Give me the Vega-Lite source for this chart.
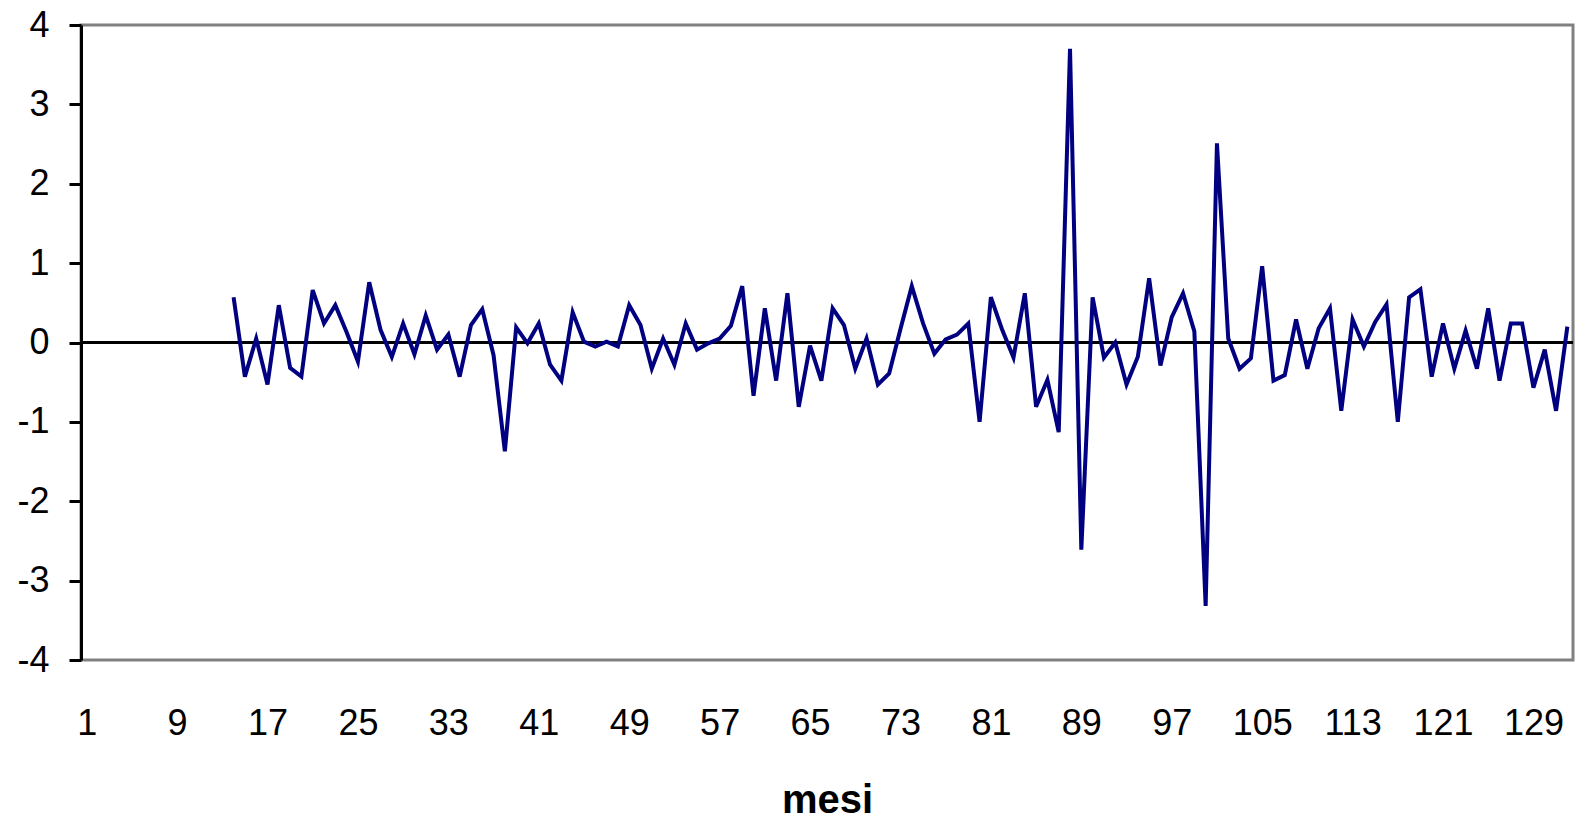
{
  "$schema": "https://vega.github.io/schema/vega-lite/v6.json",
  "autosize": {"type": "none"},
  "width": 1492,
  "height": 635,
  "padding": {"left": 81, "top": 25, "right": 8, "bottom": 161},
  "background": "white",
  "config": {
    "font": "Liberation Sans",
    "view": {"stroke": "#808080", "strokeWidth": 3}
  },
  "data": {
    "values": [
      {"mese": 14, "valore": 0.57}, {"mese": 15, "valore": -0.43}, {"mese": 16, "valore": 0.05}, {"mese": 17, "valore": -0.53},
      {"mese": 18, "valore": 0.47}, {"mese": 19, "valore": -0.32}, {"mese": 20, "valore": -0.43}, {"mese": 21, "valore": 0.66},
      {"mese": 22, "valore": 0.24}, {"mese": 23, "valore": 0.47}, {"mese": 24, "valore": 0.13}, {"mese": 25, "valore": -0.24},
      {"mese": 26, "valore": 0.76}, {"mese": 27, "valore": 0.16}, {"mese": 28, "valore": -0.18}, {"mese": 29, "valore": 0.24},
      {"mese": 30, "valore": -0.15}, {"mese": 31, "valore": 0.34}, {"mese": 32, "valore": -0.09}, {"mese": 33, "valore": 0.10},
      {"mese": 34, "valore": -0.43}, {"mese": 35, "valore": 0.22}, {"mese": 36, "valore": 0.42}, {"mese": 37, "valore": -0.16},
      {"mese": 38, "valore": -1.37}, {"mese": 39, "valore": 0.19}, {"mese": 40, "valore": -0.01}, {"mese": 41, "valore": 0.24},
      {"mese": 42, "valore": -0.28}, {"mese": 43, "valore": -0.48}, {"mese": 44, "valore": 0.38}, {"mese": 45, "valore": 0.01},
      {"mese": 46, "valore": -0.05}, {"mese": 47, "valore": 0.01}, {"mese": 48, "valore": -0.05}, {"mese": 49, "valore": 0.47},
      {"mese": 50, "valore": 0.22}, {"mese": 51, "valore": -0.33}, {"mese": 52, "valore": 0.05}, {"mese": 53, "valore": -0.28},
      {"mese": 54, "valore": 0.24}, {"mese": 55, "valore": -0.09}, {"mese": 56, "valore": -0.01}, {"mese": 57, "valore": 0.05},
      {"mese": 58, "valore": 0.21}, {"mese": 59, "valore": 0.71}, {"mese": 60, "valore": -0.67}, {"mese": 61, "valore": 0.43},
      {"mese": 62, "valore": -0.48}, {"mese": 63, "valore": 0.62}, {"mese": 64, "valore": -0.81}, {"mese": 65, "valore": -0.04},
      {"mese": 66, "valore": -0.48}, {"mese": 67, "valore": 0.43}, {"mese": 68, "valore": 0.22}, {"mese": 69, "valore": -0.33},
      {"mese": 70, "valore": 0.05}, {"mese": 71, "valore": -0.53}, {"mese": 72, "valore": -0.39}, {"mese": 73, "valore": 0.17},
      {"mese": 74, "valore": 0.71}, {"mese": 75, "valore": 0.24}, {"mese": 76, "valore": -0.14}, {"mese": 77, "valore": 0.04},
      {"mese": 78, "valore": 0.10}, {"mese": 79, "valore": 0.24}, {"mese": 80, "valore": -1.00}, {"mese": 81, "valore": 0.57},
      {"mese": 82, "valore": 0.16}, {"mese": 83, "valore": -0.19}, {"mese": 84, "valore": 0.62}, {"mese": 85, "valore": -0.81},
      {"mese": 86, "valore": -0.47}, {"mese": 87, "valore": -1.13}, {"mese": 88, "valore": 3.70}, {"mese": 89, "valore": -2.61},
      {"mese": 90, "valore": 0.57}, {"mese": 91, "valore": -0.19}, {"mese": 92, "valore": 0.00}, {"mese": 93, "valore": -0.53},
      {"mese": 94, "valore": -0.18}, {"mese": 95, "valore": 0.81}, {"mese": 96, "valore": -0.29}, {"mese": 97, "valore": 0.32},
      {"mese": 98, "valore": 0.62}, {"mese": 99, "valore": 0.14}, {"mese": 100, "valore": -3.32}, {"mese": 101, "valore": 2.51},
      {"mese": 102, "valore": 0.05}, {"mese": 103, "valore": -0.33}, {"mese": 104, "valore": -0.20}, {"mese": 105, "valore": 0.96},
      {"mese": 106, "valore": -0.48}, {"mese": 107, "valore": -0.41}, {"mese": 108, "valore": 0.29}, {"mese": 109, "valore": -0.33},
      {"mese": 110, "valore": 0.18}, {"mese": 111, "valore": 0.43}, {"mese": 112, "valore": -0.86}, {"mese": 113, "valore": 0.29},
      {"mese": 114, "valore": -0.05}, {"mese": 115, "valore": 0.26}, {"mese": 116, "valore": 0.48}, {"mese": 117, "valore": -1.00},
      {"mese": 118, "valore": 0.57}, {"mese": 119, "valore": 0.67}, {"mese": 120, "valore": -0.43}, {"mese": 121, "valore": 0.24},
      {"mese": 122, "valore": -0.33}, {"mese": 123, "valore": 0.15}, {"mese": 124, "valore": -0.33}, {"mese": 125, "valore": 0.43},
      {"mese": 126, "valore": -0.48}, {"mese": 127, "valore": 0.24}, {"mese": 128, "valore": 0.24}, {"mese": 129, "valore": -0.57},
      {"mese": 130, "valore": -0.09}, {"mese": 131, "valore": -0.86}, {"mese": 132, "valore": 0.20}
    ]
  },
  "layer": [
    {
      "mark": {"type": "rule", "color": "black", "strokeWidth": 2.5},
      "encoding": {
        "y": {"datum": 0, "type": "quantitative", "scale": {"domain": [-4, 4], "nice": false}}
      }
    },
    {
      "mark": {"type": "line", "color": "#000080", "strokeWidth": 4, "strokeJoin": "miter"},
      "encoding": {
        "x": {
          "field": "mese",
          "type": "quantitative",
          "scale": {"domain": [0.5, 132.5], "nice": false, "zero": false},
          "axis": {
            "values": [1, 9, 17, 25, 33, 41, 49, 57, 65, 73, 81, 89, 97, 105, 113, 121, 129],
            "format": "d",
            "grid": false,
            "ticks": false,
            "tickSize": 0,
            "domain": false,
            "labelFontSize": 36,
            "labelColor": "black",
            "labelPadding": 46,
            "labelFlush": false,
            "labelOverlap": false,
            "title": "mesi",
            "titleFontSize": 40,
            "titleFontWeight": "bold",
            "titleColor": "black",
            "titleBaseline": "alphabetic",
            "titleY": 152
          }
        },
        "y": {
          "field": "valore",
          "type": "quantitative",
          "scale": {"domain": [-4, 4], "nice": false},
          "axis": {
            "values": [-4, -3, -2, -1, 0, 1, 2, 3, 4],
            "labelExpr": "'' + datum.value",
            "grid": false,
            "title": null,
            "domainColor": "black",
            "domainWidth": 3,
            "tickColor": "black",
            "tickWidth": 3,
            "tickSize": 12,
            "labelFontSize": 36,
            "labelColor": "black",
            "labelPadding": 20,
            "labelFlush": false,
            "labelOverlap": false
          }
        }
      }
    }
  ]
}
